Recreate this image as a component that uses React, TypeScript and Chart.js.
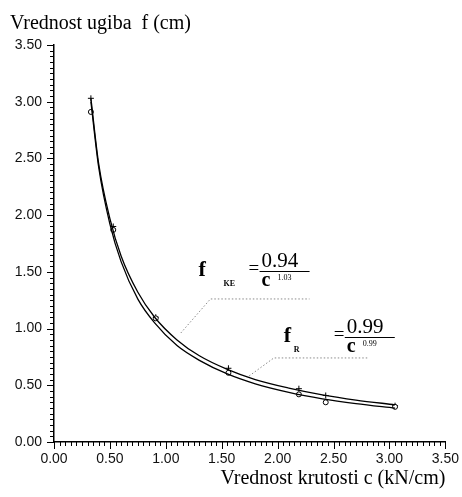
import React, { useEffect, useRef } from "react";
import { Chart, registerables } from "chart.js";

Chart.register(...registerables);

// Measured points
const measC = [0.33, 0.53, 0.91, 1.56, 2.19, 2.43, 3.05];
const measCircle = [2.91, 1.87, 1.09, 0.61, 0.42, 0.35, 0.31];
const measCross = [3.03, 1.9, 1.1, 0.65, 0.47, 0.41, 0.32];

// Fitted curves
const curveC = [0.33, 0.4, 0.5, 0.6, 0.75, 0.9, 1.1, 1.3, 1.55, 1.8, 2.1, 2.4, 2.7, 3.05];
const curveR = [3.03, 2.45, 1.97, 1.64, 1.32, 1.1, 0.9, 0.76, 0.64, 0.55, 0.475, 0.416, 0.37, 0.328];
const curveKE = [3.0, 2.42, 1.92, 1.59, 1.26, 1.05, 0.85, 0.72, 0.6, 0.513, 0.438, 0.381, 0.338, 0.298];

const AXIS_MIN = 0;
const AXIS_MAX = 3.5;
const MAJOR_STEP = 0.5;
const MINOR_STEP = 0.05;

const yTitle = "Vrednost ugiba  f (cm)";
const xTitle = "Vrednost krutosti c (kN/cm)";

// Annotation anchors in data units
const keLeader = [
  { x: 1.134, y: 0.961 },
  { x: 1.399, y: 1.261 },
  { x: 2.285, y: 1.261 },
];
const rLeader = [
  { x: 1.745, y: 0.582 },
  { x: 1.966, y: 0.741 },
  { x: 2.808, y: 0.741 },
];
const keLabel = { x: 1.293, y: 1.464, sub: "KE", num: "0.94", exp: "1.03" };
const rLabel = { x: 2.055, y: 0.882, sub: "R", num: "0.99", exp: "0.99" };

const SERIF = "'Liberation Serif', 'Times New Roman', serif";
const SANS = "'Liberation Sans', Arial, sans-serif";

const pts = (xs: number[], ys: number[]) => xs.map((x, i) => ({ x, y: ys[i] }));

const decorPlugin = {
  id: "decor",
  afterDraw(chart: any) {
    const { ctx, chartArea, scales } = chart;
    const xs = scales.x;
    const ys = scales.y;
    ctx.save();
    // minor/major ticks
    ctx.strokeStyle = "#000";
    ctx.lineWidth = 1;
    const n = Math.round((AXIS_MAX - AXIS_MIN) / MINOR_STEP);
    const perMajor = Math.round(MAJOR_STEP / MINOR_STEP);
    for (let i = 0; i <= n; i++) {
      const v = AXIS_MIN + i * MINOR_STEP;
      const len = i % perMajor === 0 ? 7 : 4;
      const py = Math.round(ys.getPixelForValue(v)) + 0.5;
      ctx.beginPath();
      ctx.moveTo(chartArea.left, py);
      ctx.lineTo(chartArea.left - len, py);
      ctx.stroke();
      const px = Math.round(xs.getPixelForValue(v)) + 0.5;
      ctx.beginPath();
      ctx.moveTo(px, chartArea.bottom);
      ctx.lineTo(px, chartArea.bottom + len);
      ctx.stroke();
    }

    // y title at top-left
    ctx.fillStyle = "#000";
    ctx.font = `20px ${SERIF}`;
    ctx.textAlign = "left";
    ctx.textBaseline = "alphabetic";
    ctx.fillText(yTitle, 10, 29);

    // leader lines
    const drawLeader = (arr: { x: number; y: number }[]) => {
      ctx.save();
      ctx.strokeStyle = "#8a8a8a";
      ctx.lineWidth = 1;
      ctx.setLineDash([1.5, 2]);
      ctx.beginPath();
      arr.forEach((p, i) => {
        const px = xs.getPixelForValue(p.x);
        const py = ys.getPixelForValue(p.y);
        if (i === 0) ctx.moveTo(px, py);
        else ctx.lineTo(px, py);
      });
      ctx.stroke();
      ctx.restore();
    };
    drawLeader(keLeader);
    drawLeader(rLeader);

    // formula labels
    const drawLabel = (l: typeof keLabel) => {
      const fx = xs.getPixelForValue(l.x);
      const fy = ys.getPixelForValue(l.y);
      ctx.fillStyle = "#000";
      ctx.textAlign = "left";
      ctx.textBaseline = "alphabetic";
      ctx.font = `bold 22px ${SERIF}`;
      ctx.fillText("f", fx, fy);
      ctx.font = `bold 8px ${SERIF}`;
      ctx.fillText(l.sub, fx + (l.sub.length > 1 ? 25 : 10), fy + 10);
      ctx.font = `19px ${SERIF}`;
      ctx.fillText("=", fx + 50, fy - 2);
      ctx.font = `21px ${SERIF}`;
      ctx.fillText(l.num, fx + 63, fy - 9);
      ctx.lineWidth = 1;
      ctx.strokeStyle = "#000";
      ctx.beginPath();
      ctx.moveTo(fx + 61, Math.round(fy - 5) + 0.5);
      ctx.lineTo(fx + 111, Math.round(fy - 5) + 0.5);
      ctx.stroke();
      ctx.font = `bold 20px ${SERIF}`;
      ctx.fillText("c", fx + 63, fy + 10);
      ctx.font = `8px ${SERIF}`;
      ctx.fillText(l.exp, fx + 79, fy + 4);
    };
    drawLabel(keLabel);
    drawLabel(rLabel);
    ctx.restore();
  },
};

export default function App() {
  const ref = useRef<HTMLCanvasElement>(null);
  useEffect(() => {
    document.body.style.margin = "0";
    const canvas = ref.current!;
    const tickCb = (v: any) => {
      const r = v / MAJOR_STEP;
      return Math.abs(r - Math.round(r)) < 1e-6 ? Number(v).toFixed(2) : "";
    };
    const chart = new Chart(canvas, {
      type: "scatter",
      data: {
        datasets: [
          {
            label: "R",
            data: pts(curveC, curveR),
            showLine: true,
            borderColor: "#000",
            borderWidth: 1.3,
            pointRadius: 0,
            cubicInterpolationMode: "monotone",
          } as any,
          {
            label: "KE",
            data: pts(curveC, curveKE),
            showLine: true,
            borderColor: "#000",
            borderWidth: 1.3,
            pointRadius: 0,
            cubicInterpolationMode: "monotone",
          } as any,
          {
            label: "measured circle",
            data: pts(measC, measCircle),
            pointStyle: "circle",
            pointRadius: 2.5,
            borderColor: "#000",
            borderWidth: 1,
            backgroundColor: "#fff",
          },
          {
            label: "measured cross",
            data: pts(measC, measCross),
            pointStyle: "cross",
            pointRadius: 3,
            borderColor: "#000",
            borderWidth: 1,
          },
        ],
      },
      options: {
        animation: false,
        responsive: false,
        layout: { padding: { top: 45, right: 13, left: 0, bottom: 0 } },
        plugins: { legend: { display: false }, tooltip: { enabled: false }, title: { display: false } },
        scales: {
          x: {
            type: "linear",
            min: AXIS_MIN,
            max: AXIS_MAX,
            afterFit: (s: any) => {
              s.height = 55;
            },
            ticks: {
              stepSize: MAJOR_STEP,
              callback: tickCb,
              color: "#111",
              font: { family: SANS, size: 14 },
              padding: 3,
              maxRotation: 0,
              autoSkip: false,
            },
            grid: {
              display: true,
              drawOnChartArea: false,
              drawTicks: true,
              tickLength: 6,
              tickColor: "rgba(0,0,0,0)",
            },
            border: { display: true, color: "#000", width: 1.5 },
            title: {
              display: true,
              text: xTitle,
              align: "end",
              color: "#000",
              font: { family: SERIF, size: 20 },
              padding: { top: 0, bottom: 6 },
            },
          },
          y: {
            type: "linear",
            min: AXIS_MIN,
            max: AXIS_MAX,
            afterFit: (s: any) => {
              s.width = 54;
            },
            ticks: {
              stepSize: MAJOR_STEP,
              callback: tickCb,
              color: "#111",
              font: { family: SANS, size: 14 },
              padding: 6,
              autoSkip: false,
            },
            grid: {
              display: true,
              drawOnChartArea: false,
              drawTicks: true,
              tickLength: 6,
              tickColor: "rgba(0,0,0,0)",
            },
            border: { display: true, color: "#000", width: 1.5 },
          },
        },
      },
      plugins: [decorPlugin],
    });
    return () => chart.destroy();
  }, []);
  return (
    <div style={{ width: 462, height: 497 }}>
      <canvas ref={ref} width={462} height={497} style={{ display: "block" }} />
    </div>
  );
}
